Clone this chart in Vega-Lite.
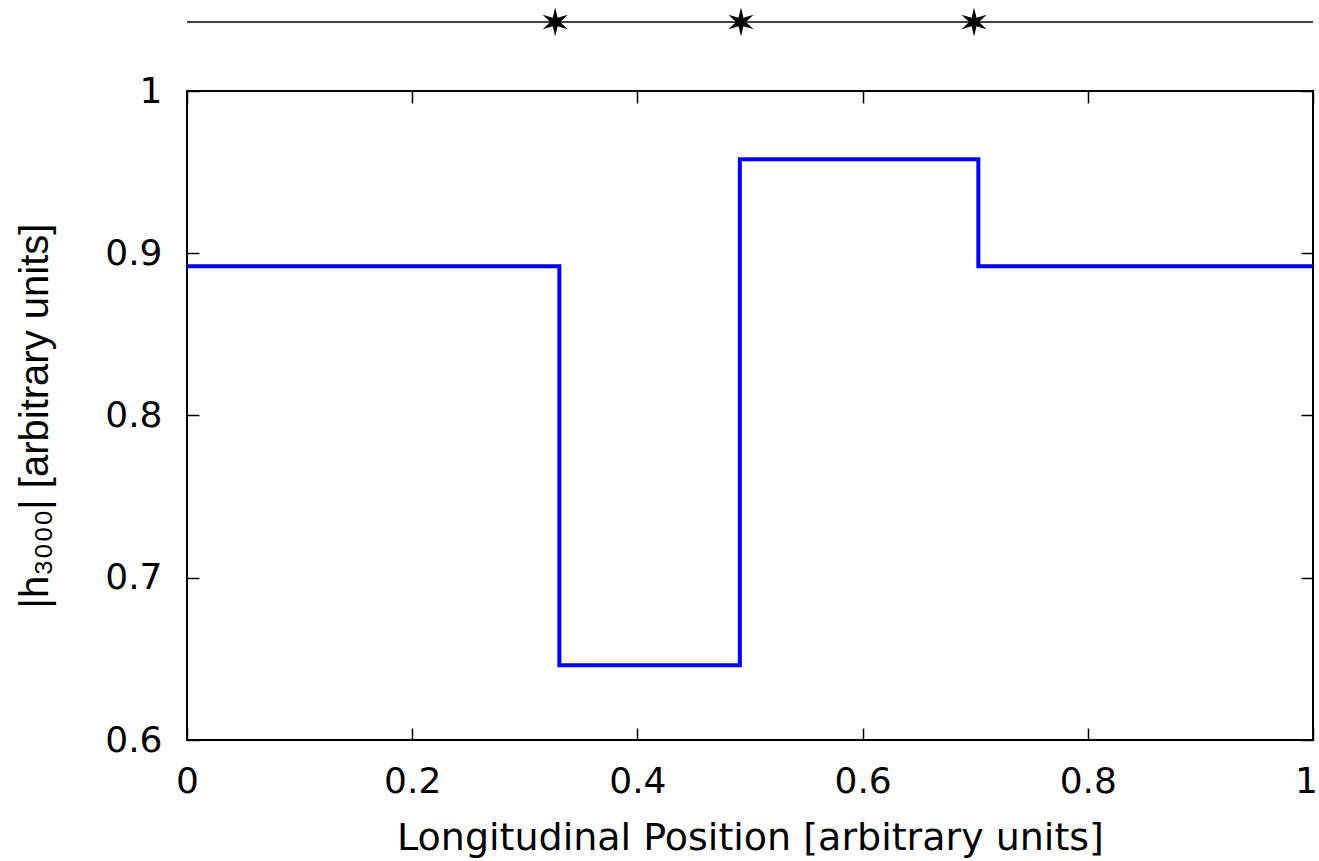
{
  "$schema": "https://vega.github.io/schema/vega-lite/v6.json",
  "padding": {"left": 14, "top": 0, "right": 0, "bottom": 0},
  "bounds": "flush",
  "spacing": 47,
  "background": "white",
  "config": {
    "font": "DejaVu Sans",
    "view": {"stroke": null},
    "axis": {
      "labelFont": "DejaVu Sans",
      "titleFont": "DejaVu Sans",
      "labelFontSize": 36,
      "titleFontSize": 38,
      "titleFontWeight": "normal",
      "labelColor": "black",
      "titleColor": "black",
      "tickColor": "black",
      "tickWidth": 1.5,
      "tickSize": -12,
      "domain": false,
      "grid": false,
      "labelOverlap": false,
      "labelBound": false,
      "labelFlush": false
    }
  },
  "datasets": {
    "track": [{"start": 0, "end": 1}],
    "markers": [{"pos": 0.327}, {"pos": 0.492}, {"pos": 0.699}],
    "profile": [
      {"position": 0.0, "h": 0.892},
      {"position": 0.3307, "h": 0.646},
      {"position": 0.491, "h": 0.958},
      {"position": 0.7028, "h": 0.892},
      {"position": 1.0, "h": 0.892}
    ]
  },
  "vconcat": [
    {
      "width": 1126,
      "height": 44,
      "layer": [
        {
          "data": {"name": "track"},
          "mark": {"type": "rule", "color": "black", "strokeWidth": 1.5},
          "encoding": {
            "x": {"field": "start", "type": "quantitative", "scale": {"domain": [0, 1], "nice": false}, "axis": null},
            "x2": {"field": "end"}
          }
        },
        {
          "data": {"name": "markers"},
          "mark": {
            "type": "point",
            "shape": "M0,-1L0.17,-0.3L0.866,-0.5L0.34,0L0.866,0.5L0.17,0.3L0,1L-0.17,0.3L-0.866,0.5L-0.34,0L-0.866,-0.5L-0.17,-0.3Z",
            "filled": true,
            "color": "black",
            "opacity": 1,
            "size": 841
          },
          "encoding": {
            "x": {"field": "pos", "type": "quantitative", "scale": {"domain": [0, 1], "nice": false}, "axis": null}
          }
        }
      ]
    },
    {
      "width": 1126,
      "height": 649,
      "view": {"stroke": "black", "strokeWidth": 2},
      "data": {"name": "profile"},
      "layer": [
        {
          "mark": {"type": "line", "interpolate": "step-after", "color": "#0000ff", "strokeWidth": 4},
          "encoding": {
            "x": {
              "field": "position",
              "type": "quantitative",
              "scale": {"domain": [0, 1], "nice": false},
              "axis": {
                "orient": "bottom",
                "values": [0, 0.2, 0.4, 0.6, 0.8, 1],
                "format": "~g",
                "labelPadding": 36,
                "labelOffset": {"condition": {"test": "datum.value === 1", "value": -7}, "value": 0},
                "title": "Longitudinal Position [arbitrary units]",
                "titlePadding": 20
              }
            },
            "y": {
              "field": "h",
              "type": "quantitative",
              "scale": {"domain": [0.6, 1], "zero": false, "nice": false},
              "axis": {
                "orient": "left",
                "values": [0.6, 0.7, 0.8, 0.9, 1],
                "format": "~g",
                "labelPadding": 37,
                "title": "|h₃₀₀₀| [arbitrary units]",
                "titleFont": "Liberation Sans",
                "titleFontSize": 40,
                "titlePadding": 49
              }
            }
          }
        },
        {
          "mark": {"type": "line", "interpolate": "step-after", "opacity": 0},
          "encoding": {
            "x": {
              "field": "position",
              "type": "quantitative",
              "axis": {"orient": "top", "values": [0, 0.2, 0.4, 0.6, 0.8, 1], "labels": false, "title": null}
            },
            "y": {
              "field": "h",
              "type": "quantitative",
              "axis": {"orient": "right", "values": [0.6, 0.7, 0.8, 0.9, 1], "labels": false, "title": null}
            }
          }
        }
      ],
      "resolve": {"axis": {"x": "independent", "y": "independent"}}
    }
  ]
}
